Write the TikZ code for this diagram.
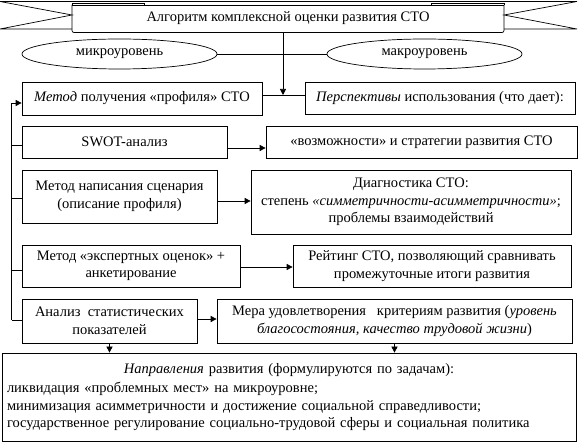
\documentclass[tikz,border=0pt]{standalone}
\usepackage{fontspec}
\setmainfont{Liberation Serif}
\usetikzlibrary{arrows.meta,shapes.geometric}
\newcommand\myfs{\fontsize{14.5}{17.5}\selectfont}
\begin{document}
\begin{tikzpicture}[x=1pt,y=-1pt,line width=0.7pt,
  box/.style={draw,rectangle,inner sep=1pt,align=center,font=\myfs},
  arr/.style={-{Triangle[length=6pt,width=6pt]}},
  ell/.style={draw,ellipse,minimum width=195pt,minimum height=30pt,inner sep=0pt,font=\myfs}]
\useasboundingbox (0,0) rectangle (581,443);
% ribbon title
\node[font=\myfs,minimum width=432pt,minimum height=28pt,inner sep=0pt] (title) at (288,18.5) {Алгоритм комплексной оценки развития СТО};
\draw[rounded corners=2pt] (72,5) -- (72,32.5) -- (504,32.5) -- (504,5);
\draw (72,5) -- (504,5);
\draw (72,5) -- (72,3.3) -- (144,3.3) -- (144,5);
\draw (431,5) -- (431,3.3) -- (504,3.3) -- (504,5);
\draw (0,1.5) -- (577,1.5);
\draw (0,1.5) -- (72,15) -- (0,29) -- (72,29);
\draw (577,1.5) -- (504,15) -- (577,29) -- (504,29);
% ellipses
\node[ell] (mic) at (119.5,54) {микроуровень};
\node[ell] (mac) at (424.5,54) {макроуровень};
\draw (mic.east) -- (mac.west);
% boxes
\node[box,minimum width=240pt,minimum height=33pt] (metod) at (142,98.5) {\textit{Метод} получения «профиля» СТО};
\node[box,minimum width=270pt,minimum height=32pt] (persp) at (440,98) {\textit{Перспективы} использования (что дает):};
\node[box,minimum width=205pt,minimum height=32pt] (swot) at (124.5,142) {SWOT-анализ};
\node[box,minimum width=311pt,minimum height=32pt] (vozm) at (421.5,142) {«возможности» и стратегии развития СТО};
\node[box,minimum width=195pt,minimum height=53pt] (scen) at (119.5,196.5) {Метод написания сценария\\(описание профиля)};
\node[box,minimum width=320pt,minimum height=64pt] (diag) at (411,202) {Диагностика СТО:\\степень \textit{«симметричности-асимметричности»};\\проблемы взаимодействий};
\node[box,minimum width=218pt,minimum height=42pt] (expert) at (131,266) {Метод «экспертных оценок» +\\анкетирование};
\node[box,minimum width=278pt,minimum height=42pt] (rating) at (432,266) {Рейтинг СТО, позволяющий сравнивать\\промежуточные итоги развития};
\node[box,minimum width=175pt,minimum height=44pt] (anal) at (109.5,321) {Анализ\ \ статистических\\показателей};
\node[box,minimum width=355pt,minimum height=44pt] (mera) at (394.5,321) {Мера удовлетворения\ \ \ критериям развития (\textit{уровень}\\\textit{благосостояния, качество трудовой жизни})};
\node[box,minimum width=574pt,minimum height=88pt,align=left,text width=564pt,inner sep=4pt] (napr) at (289,397) {\makebox[\linewidth]{\textit{Направления} развития (формулируются по задачам):}\\[2pt]ликвидация «проблемных мест» на микроуровне;\\минимизация асимметричности и достижение социальной справедливости;\\государственное регулирование социально-трудовой сферы и социальная политика};
% connectors
\coordinate (j) at (283,95);
\draw (metod.east |- j) -- (persp.west |- j);
\draw[arr] (title.south -| j) -- (j);
\coordinate (bt) at (11.7,103);
\coordinate (bb) at (11.7,320);
\draw (bb) -- (bt);
\draw[arr] (bt) -- (metod.west |- bt);
\draw (bt |- 0,145) -- (swot.west |- 0,145);
\draw (bt |- 0,198) -- (scen.west |- 0,198);
\draw (bt |- 0,270) -- (expert.west |- 0,270);
\draw (bb) -- (anal.west |- bb);
\draw[arr] (swot.east |- 0,148) -- (vozm.west |- 0,148);
\draw[arr] (scen.east |- 0,201) -- (diag.west |- 0,201);
\draw[arr] (expert.east |- 0,267) -- (rating.west |- 0,267);
\draw[arr] (anal.east |- 0,319) -- (mera.west |- 0,319);
\draw[arr] (anal.south) -- (napr.north -| anal.south);
\draw[arr] (mera.south) -- (napr.north -| mera.south);
\end{tikzpicture}
\end{document}
